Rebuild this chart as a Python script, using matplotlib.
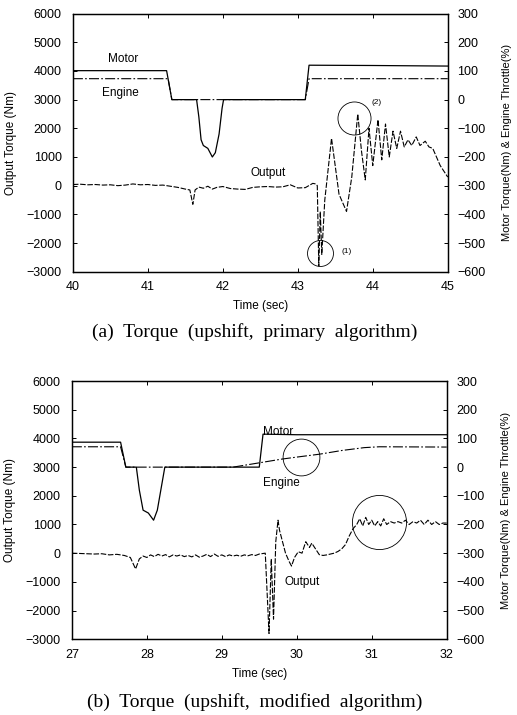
import matplotlib
matplotlib.use("Agg")
import matplotlib.pyplot as plt

# ---- panel (a): upshift, primary algorithm ----
a_motor_t = [40.0, 41.25, 41.32, 41.65, 41.68, 41.71, 41.74, 41.80, 41.86, 41.90, 41.95, 41.99, 42.01, 43.10, 43.15, 44.0, 45.0]
a_motor_v = [101, 101, 0, 0, -60, -140, -160, -170, -200, -185, -120, -30, 0, 0, 120, 119, 117]
a_engine_t = [40.0, 41.27, 41.32, 43.10, 43.15, 45.0]
a_engine_v = [73, 73, 0, 0, 73, 73]
a_out_t = [40.0, 40.1, 40.2, 40.3, 40.4, 40.5, 40.6, 40.7, 40.8, 40.9, 41.0, 41.1, 41.2, 41.3, 41.4,
           41.5, 41.56, 41.6, 41.63, 41.68, 41.74, 41.8, 41.86, 41.92, 42.0, 42.1, 42.2, 42.3, 42.4,
           42.5, 42.6, 42.7, 42.8, 42.9, 43.0, 43.1, 43.2, 43.24, 43.26, 43.28, 43.30, 43.32, 43.36,
           43.45, 43.55, 43.65, 43.72, 43.80, 43.85, 43.90, 43.95, 44.00, 44.07, 44.12, 44.17, 44.22,
           44.27, 44.32, 44.37, 44.42, 44.47, 44.52, 44.58, 44.63, 44.70, 44.75, 44.80, 44.85, 44.90,
           44.95, 45.0]
a_out_v = [40, 50, 30, 40, 20, 30, 0, 20, 60, 30, 40, 10, 20, -20, -60,
           -120, -150, -650, -150, -50, -90, -20, -120, -60, -30, -100, -120, -130, -60,
           -40, -30, -50, -40, 30, -80, -70, 80, 60, 0, -2800, -900, -2400, -500,
           1650, -300, -900, 300, 2500, 1200, 200, 2000, 700, 2300, 900, 2150, 1000,
           1900, 1300, 1900, 1350, 1600, 1400, 1700, 1400, 1550, 1350, 1300, 1000, 700,
           500, 300]

# ---- panel (b): upshift, modified algorithm ----
b_motor_t = [27.0, 27.65, 27.72, 27.86, 27.90, 27.95, 28.02, 28.09, 28.14, 28.20, 28.24, 29.50, 29.55, 30.0, 32.0]
b_motor_v = [87, 87, 0, 0, -80, -150, -160, -185, -150, -60, 0, 0, 115, 113, 113]
b_engine_t = [27.0, 27.65, 27.72, 29.15, 29.5, 29.8, 30.0, 30.3, 30.6, 30.9, 31.1, 32.0]
b_engine_v = [71, 71, 0, 0, 15, 28, 35, 45, 58, 68, 71, 70]
b_out_t = [27.0, 27.1, 27.2, 27.3, 27.4, 27.5, 27.6, 27.7, 27.78, 27.85, 27.9, 27.95, 28.0, 28.05,
           28.1, 28.15, 28.2, 28.25, 28.3, 28.35, 28.4, 28.45, 28.5, 28.55, 28.6, 28.65, 28.7,
           28.75, 28.8, 28.85, 28.9, 28.95, 29.0, 29.05, 29.1, 29.15, 29.2, 29.25, 29.3, 29.35,
           29.4, 29.45, 29.5, 29.58, 29.63, 29.66, 29.69, 29.72, 29.75, 29.77, 29.8, 29.85, 29.9,
           29.93, 29.97, 30.02, 30.07, 30.12, 30.17, 30.2, 30.25, 30.3, 30.35, 30.4, 30.45, 30.5,
           30.55, 30.6, 30.65, 30.7, 30.75, 30.8, 30.84, 30.88, 30.92, 30.96, 31.0, 31.04, 31.08,
           31.12, 31.16, 31.2, 31.25, 31.3, 31.35, 31.4, 31.45, 31.5, 31.55, 31.6, 31.65, 31.7,
           31.75, 31.8, 31.85, 31.9, 31.95, 32.0]
b_out_v = [0, -10, -20, -30, -20, -60, -40, -80, -150, -550, -200, -100, -150, -60,
           -120, -40, -100, -50, -130, -60, -100, -60, -120, -80, -130, -60, -140,
           -100, -40, -120, -30, -110, -60, -120, -60, -100, -70, -110, -60, -90,
           -50, -80, -30, 0, -2800, -200, -2300, 400, 1150, 800, 500, 0, -300,
           -450, -150, 50, 0, 400, 200, 350, 150, -50, -80, -60, -30, 0,
           60, 150, 300, 600, 850, 1000, 1200, 950, 1250, 1000, 1150, 950, 1100,
           950, 1200, 1000, 1100, 1050, 1100, 1050, 1150, 1000, 1100, 1050, 1150, 1000,
           1150, 1000, 1100, 1000, 1050, 1050]

out_ticks = [-3000, -2000, -1000, 0, 1000, 2000, 3000, 4000, 5000, 6000]
right_ticks = [-600, -500, -400, -300, -200, -100, 0, 100, 200, 300]

SANS = "Liberation Sans"
SERIF = "Liberation Serif"

fig = plt.figure(figsize=(5.17, 7.15), dpi=100)


def panel(rect, t0, motor_t, motor_v, eng_t, eng_v, out_t, out_v, labels, circles, caption, cap_y):
    ax = fig.add_axes(rect)
    ax2 = ax.twinx()
    ax.plot(out_t, out_v, color="k", lw=0.8, ls=(0, (5, 1.5)))
    ax2.plot(eng_t, eng_v, color="k", lw=0.8, ls=(0, (9, 2, 1.5, 2)))
    ax2.plot(motor_t, motor_v, color="k", lw=0.9)
    ax.set_xlim(t0, t0 + 5)
    ax.set_ylim(-3000, 6000)
    ax2.set_ylim(-600, 300)
    ax.set_yticks(out_ticks)
    ax2.set_yticks(right_ticks)
    ax.set_xticks(range(t0, t0 + 6))
    for a in (ax, ax2):
        a.tick_params(direction="in", length=3, width=0.7, labelsize=9, pad=7)
        for lab in a.get_xticklabels() + a.get_yticklabels():
            lab.set_family(SANS)
        for s in a.spines.values():
            s.set_linewidth(0.9)
    ax.tick_params(top=True)
    ax.tick_params(axis="y", pad=8)
    ax.set_xlabel("Time (sec)", family=SANS, fontsize=8.5, labelpad=5)
    ax.set_ylabel("Output Torque (Nm)", family=SANS, fontsize=8.5, labelpad=7)
    ax2.set_ylabel("Motor Torque(Nm) & Engine Throttle(%)", family=SANS, fontsize=8, labelpad=12)
    for txt, x, y in labels:
        ax.text(x, y, txt, family=SANS, fontsize=8.5, ha="center", va="center")
    for x, y, d, lab, lx, ly in circles:
        ax.plot([x], [y], "o", ms=d, mfc="none", mec="k", mew=0.6)
        if lab:
            ax.text(lx, ly, lab, family=SANS, fontsize=6, ha="center", va="center")
    fig.text(0.493, cap_y, caption, family=SERIF, fontsize=14, ha="center", va="center")


panel([0.141, 0.620, 0.725, 0.361], 40, a_motor_t, a_motor_v, a_engine_t, a_engine_v, a_out_t, a_out_v,
      [("Motor", 40.67, 4400), ("Engine", 40.63, 3240), ("Output", 42.6, 450)],
      [(43.29, -2360, 18.7, "(1)", 43.65, -2300), (43.75, 2370, 23.8, "(2)", 44.05, 2900)],
      "(a)  Torque  (upshift,  primary  algorithm)", 0.535)

panel([0.139, 0.106, 0.725, 0.361], 27, b_motor_t, b_motor_v, b_engine_t, b_engine_v, b_out_t, b_out_v,
      [("Motor", 29.75, 4230), ("Engine", 29.79, 2440), ("Output", 30.07, -1000)],
      [(30.05, 3340, 26.5, "", 0, 0), (31.1, 1090, 39, "", 0, 0)],
      "(b)  Torque  (upshift,  modified  algorithm)", 0.018)

fig.savefig("out.png", dpi=100)
